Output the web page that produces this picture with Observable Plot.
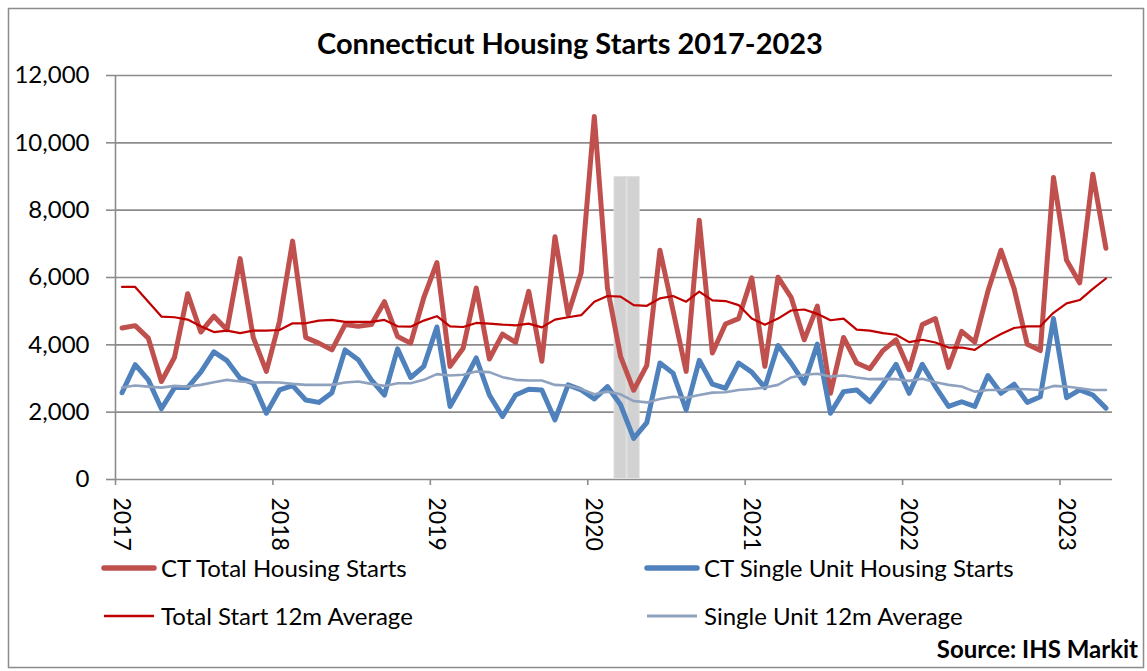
<!DOCTYPE html>
<html>
<head>
<meta charset="utf-8">
<script src="https://cdn.jsdelivr.net/npm/d3@7"></script>
<script src="https://cdn.jsdelivr.net/npm/@observablehq/plot@0.6"></script>
<style>
  html, body { margin: 0; padding: 0; background: #fff; }
  #wrap { position: relative; width: 1147px; height: 671px; overflow: hidden; font-family: Lato, sans-serif; }
  #chart, #overlay { position: absolute; left: 0; top: 0; }
</style>
</head>
<body>
<div id="wrap">
  <div id="chart"></div>
  <svg id="overlay" width="1147" height="671"></svg>
</div>
<script>
// ---- Data (monthly, Jan 2017 – Apr 2023) ----
const title = "Connecticut Housing Starts 2017-2023";
const source = "Source: IHS Markit";
const years = ["2017", "2018", "2019", "2020", "2021", "2022", "2023"];
const yTicks = [0, 2000, 4000, 6000, 8000, 10000, 12000];

const seriesNames = ["CT Total Housing Starts", "CT Single Unit Housing Starts",
                     "Total Start 12m Average", "Single Unit 12m Average"];

const total = [
  4500, 4570, 4200, 2910, 3630, 5520, 4380, 4850, 4450, 6560, 4220, 3210,
  4700, 7080, 4220, 4050, 3850, 4600, 4550, 4600, 5280, 4250, 4050, 5400,
  6440, 3360, 3900, 5690, 3580, 4320, 4070, 5590, 3510, 7210, 4900, 6140,
  10780, 5690, 3660, 2650, 3390, 6810, 5020, 3210, 7700, 3760, 4620, 4780,
  5990, 3360, 6010, 5410, 4150, 5150, 2560, 4220, 3460, 3290, 3830, 4150,
  3260, 4600, 4780, 3330, 4400, 4080, 5590, 6810, 5670, 4020, 3830, 8970,
  6510, 5840, 9070, 6870
];
const single = [
  2580, 3410, 2960, 2100, 2730, 2730, 3190, 3790, 3530, 3010, 2860, 1970,
  2660, 2790, 2360, 2290, 2580, 3850, 3560, 2960, 2510, 3880, 3030, 3360,
  4530, 2170, 2860, 3610, 2510, 1870, 2510, 2680, 2660, 1770, 2810, 2660,
  2390, 2760, 2220, 1220, 1690, 3460, 3160, 2070, 3540, 2830, 2710, 3460,
  3190, 2730, 3980, 3460, 2860, 4020, 1970, 2610, 2660, 2310, 2830, 3420,
  2560, 3420, 2760, 2170, 2310, 2170, 3090, 2560, 2830, 2290, 2460, 4780,
  2430, 2660, 2510, 2120
];
const totalAvg = [
  5720, 5720, 5280, 4840, 4820, 4750, 4550, 4380, 4420, 4350, 4420, 4420,
  4440, 4640, 4640, 4720, 4740, 4680, 4680, 4680, 4740, 4550, 4540, 4720,
  4850, 4550, 4530, 4650, 4630, 4600, 4580, 4630, 4520, 4750, 4820, 4880,
  5280, 5450, 5430, 5180, 5160, 5380, 5450, 5280, 5580, 5320, 5300, 5180,
  4780, 4600, 4780, 5020, 5050, 4920, 4730, 4780, 4450, 4420, 4350, 4300,
  4080, 4150, 4070, 3920, 3920, 3850, 4110, 4320, 4500, 4550, 4550, 4950,
  5230, 5330, 5660, 5970
];
const singleAvg = [
  2730, 2790, 2760, 2730, 2780, 2760, 2810, 2890, 2960, 2910, 2880, 2890,
  2880, 2840, 2810, 2810, 2810, 2880, 2910, 2840, 2780, 2860, 2860, 2960,
  3130, 3090, 3110, 3210, 3190, 3040, 2960, 2940, 2940, 2810, 2790, 2690,
  2530, 2610, 2530, 2330, 2290, 2390, 2460, 2430, 2510, 2580, 2590, 2660,
  2690, 2730, 2810, 3030, 3110, 3140, 3060, 3090, 3030, 2980, 2990, 2980,
  2930, 2990, 2890, 2810, 2760, 2610, 2660, 2660, 2690, 2680, 2660, 2780,
  2760, 2710, 2660, 2660
];
// Shaded recession months (month index from Jan 2017): Mar 2020, Apr 2020
const recessionMonths = [38, 39];
const recessionTop = 9000;

// ---- Build table ----
const rows = total.map((v, i) => ({
  m: i + 0.5, total: v, single: single[i], totalAvg: totalAvg[i], singleAvg: singleAvg[i]
}));
const yearTickPos = years.map((_, i) => i * 12);

const colors = ["#C0504D", "#4F81BD", "#C00000", "#8EA2BF"];
const widths = [5, 5, 2.2, 2.6];
const grid = "#8c8c8c";

const chart = Plot.plot({
  width: 1147,
  height: 556,
  marginTop: 75,
  marginBottom: 77,
  marginLeft: 115,
  marginRight: 35,
  style: { fontFamily: "Lato, sans-serif", fontSize: "24px", color: "#000", background: "transparent", overflow: "visible" },
  x: { type: "linear", domain: [0, 76] },
  y: { domain: [0, 12000] },
  marks: [
    Plot.ruleY(yTicks, { stroke: grid, strokeWidth: 1.6 }),
    Plot.axisY({ ticks: yTicks, tickSize: 9, tickPadding: 17, tickFormat: d3.format(","),
                 stroke: grid, strokeWidth: 1.6, label: null, fontSize: 24 }),
    Plot.rectY([recessionMonths[0]], { x1: d => d, x2: d => d + recessionMonths.length, y1: 0, y2: recessionTop, fill: "#e0e0e0" }),
    Plot.rectY(recessionMonths, { x1: d => d, x2: d => d + 1, y1: 0, y2: recessionTop, fill: "#d2d2d2", inset: 1 }),
    Plot.ruleX([0], { y1: 0, y2: 12000, stroke: grid, strokeWidth: 1.6 }),
    // tick marks (no labels)
    Plot.axisX({ ticks: yearTickPos, tickSize: 6, tickFormat: () => "",
                 stroke: grid, strokeWidth: 1.6, label: null }),
    // rotated year labels, nudged right like the original
    Plot.axisX({ ticks: yearTickPos, tickSize: 0, tickPadding: 18, tickRotate: 90, dx: 6,
                 tickFormat: (d) => years[d / 12], label: null, fontSize: 23 }),
    Plot.lineY(rows, { x: "m", y: "total", stroke: colors[0], strokeWidth: widths[0], strokeLinejoin: "round", strokeLinecap: "round" }),
    Plot.lineY(rows, { x: "m", y: "single", stroke: colors[1], strokeWidth: widths[1], strokeLinejoin: "round", strokeLinecap: "round" }),
    Plot.lineY(rows, { x: "m", y: "totalAvg", stroke: colors[2], strokeWidth: widths[2] }),
    Plot.lineY(rows, { x: "m", y: "singleAvg", stroke: colors[3], strokeWidth: widths[3] })
  ]
});
document.getElementById("chart").appendChild(chart);

// ---- Title, legend, source, border ----
const svg = d3.select("#overlay");
svg.append("rect").attr("x", 8.5).attr("y", 8.5).attr("width", 1135).attr("height", 659)
  .attr("fill", "none").attr("stroke", grid).attr("stroke-width", 1.5);
svg.append("text").attr("x", 570).attr("y", 54).attr("text-anchor", "middle")
  .attr("font-family", "Lato, sans-serif").attr("font-weight", 700).attr("font-size", 29)
  .text(title);

const legendPos = [
  { x: 104, y: 568 }, { x: 647, y: 568 }, { x: 104, y: 616 }, { x: 647, y: 616 }
];
seriesNames.forEach((name, i) => {
  const p = legendPos[i];
  svg.append("line").attr("x1", p.x).attr("x2", p.x + 50).attr("y1", p.y).attr("y2", p.y)
    .attr("stroke", colors[i]).attr("stroke-width", widths[i] + 0.5)
    .attr("stroke-linecap", i < 2 ? "round" : "butt");
  svg.append("text").attr("x", p.x + 57).attr("y", p.y + 8.5)
    .attr("font-family", "Lato, sans-serif").attr("font-size", 24).text(name);
});
svg.append("text").attr("x", 1138).attr("y", 658).attr("text-anchor", "end")
  .attr("font-family", "Lato, sans-serif").attr("font-weight", 700).attr("font-size", 24)
  .text(source);
</script>
</body>
</html>
